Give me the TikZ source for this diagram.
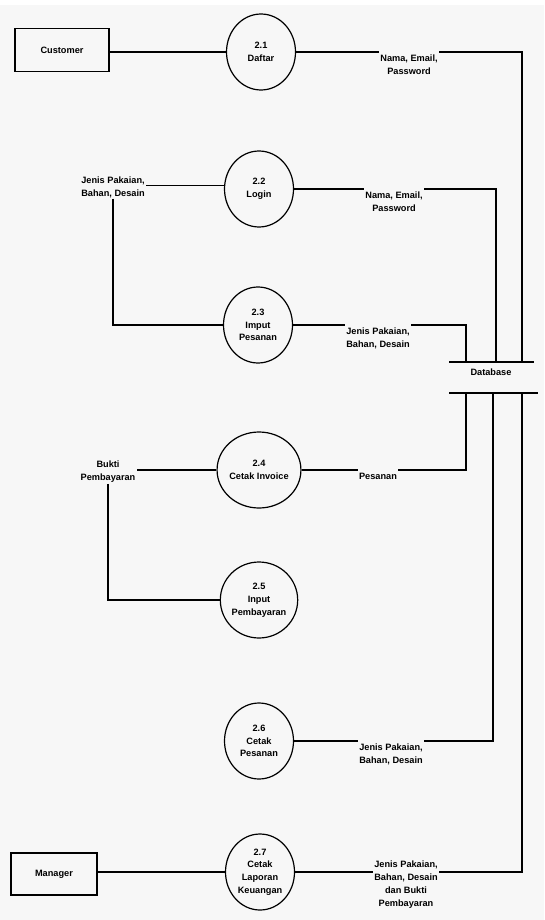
\documentclass[tikz,border=0pt]{standalone}
\usepackage{fontspec}
\setmainfont{Liberation Sans}
\usetikzlibrary{shapes.geometric}
\definecolor{bgc}{RGB}{247,247,247}
\begin{document}
\begin{tikzpicture}[x=1pt,y=-1pt,
  txt/.style={font=\fontsize{9.2}{12.8}\selectfont\bfseries},
  proc/.style={ellipse, draw, line width=1.2pt, minimum width=69pt, minimum height=76pt, inner sep=0pt, align=center, txt},
  ent/.style={rectangle, draw, line width=1.2pt, align=center, txt},
  flow/.style={line width=1.2pt},
  lbl/.style={fill=bgc, inner xsep=1pt, inner ysep=4pt, align=center, anchor=north, txt},
  side/.style={inner sep=1pt, align=center, txt}]
\fill[white] (0,0) rectangle (544,920);
\fill[bgc] (0,5) rectangle (544,920);
\useasboundingbox (0,0) rectangle (544,920);
% external entities
\node[ent, minimum width=94pt, minimum height=43pt] (cust) at (62,50) {Customer};
\node[ent, minimum width=86pt, minimum height=42pt] (mgr) at (54,874) {Manager};
% processes
\node[proc] (p1) at (261,52) {2.1\\Daftar};
\node[proc] (p2) at (259,189) {2.2\\Login};
\node[proc] (p3) at (258,325) {2.3\\Imput\\Pesanan};
\node[proc] (p4) at (259,470) {2.4\\Cetak Invoice};
\node[proc] (p5) at (259,600) {2.5\\Input\\Pembayaran};
\node[proc] (p6) at (259,741) {2.6\\Cetak\\Pesanan};
\node[proc] (p7) at (260,872) {2.7\\Cetak\\Laporan\\Keuangan};
% data store
\coordinate (dbtl) at (449,362);
\coordinate (dbtr) at (534,362);
\coordinate (dbbl) at (449,393);
\coordinate (dbbr) at (538,393);
\node[txt, inner sep=0pt] (db) at (491,372) {Database};
\draw[flow] (dbtl) -- (dbtr);
\draw[flow] (dbbl) -- (dbbr);
\coordinate (d1) at (522,362);
\coordinate (d2) at (496,362);
\coordinate (d3) at (466,362);
\coordinate (d4) at (466,393);
\coordinate (d6) at (493,393);
\coordinate (d7) at (522,393);
% flows to database
\draw[flow] (p1.east) -| (d1);
\draw[flow] (p2.east) -| (d2);
\draw[flow] (p3.east) -| (d3);
\draw[flow] (p4.east) -| (d4);
\draw[flow] (p6.east) -| (d6);
\draw[flow] (p7.east) -| (d7);
% entity flows
\draw[flow] (cust.east |- p1.west) -- (p1.west);
\draw[flow] (mgr.east |- p7.west) -- (p7.west);
% flow labels
\node[lbl] (l1) at (409,50.5) {Nama, Email,\\Password};
\node[lbl] (l2) at (394,187.5) {Nama, Email,\\Password};
\node[lbl] (l3) at (378,323.5) {Jenis Pakaian,\\Bahan, Desain};
\node[lbl] (l4) at (378,468.5) {Pesanan};
\node[lbl] (l6) at (391,739.5) {Jenis Pakaian,\\Bahan, Desain};
\node[lbl] (l7) at (406,857) {Jenis Pakaian,\\Bahan, Desain\\dan Bukti\\Pembayaran};
% side labels and loops
\node[side] (s2) at (113,187) {Jenis Pakaian,\\Bahan, Desain};
\node[side] (s4) at (108,472) {Bukti\\Pembayaran};
\draw[flow] (p2.174) -- (p2.174 -| s2.east);
\draw[flow] (s2.south) -- (s2.south |- p3.west) -- (p3.west);
\draw[flow] (p4.west) -- (p4.west -| s4.east);
\draw[flow] (s4.south) -- (s4.south |- p5.west) -- (p5.west);
\end{tikzpicture}
\end{document}
